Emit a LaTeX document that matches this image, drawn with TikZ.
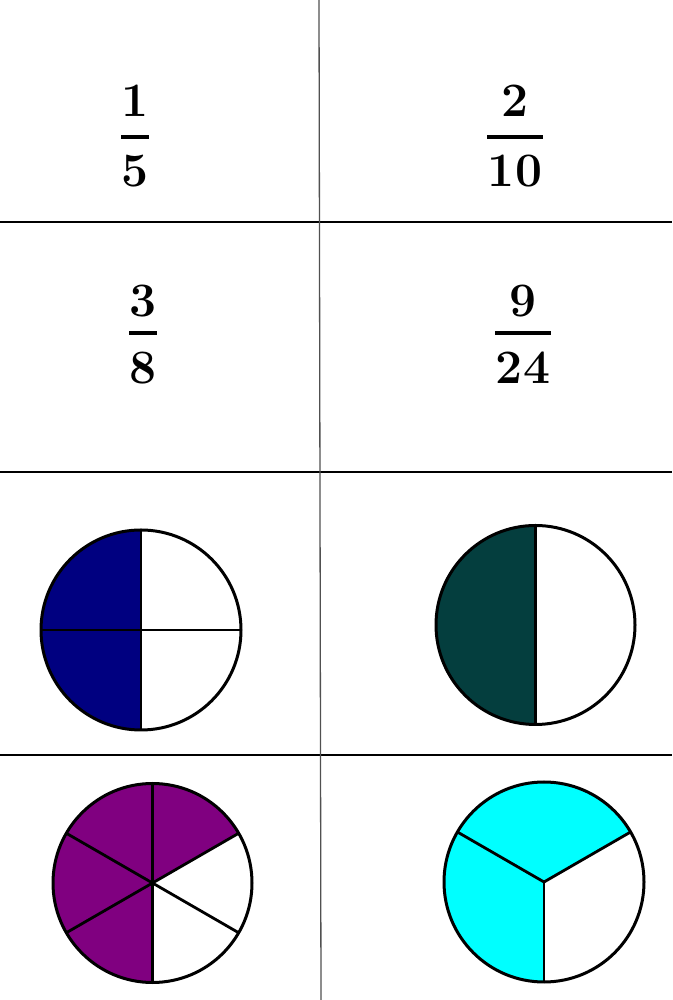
\documentclass[tikz,border=0pt]{standalone}
\usepackage{fontspec}
\definecolor{navyc}{HTML}{000080}
\definecolor{tealc}{HTML}{043E3E}
\definecolor{purplec}{HTML}{800080}
\definecolor{cyanc}{HTML}{00FFFF}
\definecolor{gridgray}{HTML}{505050}
\begin{document}
\begin{tikzpicture}[x=1pt,y=1pt,
  digit/.style={inner sep=0pt,font=\fontsize{48}{48}\selectfont\bfseries},
  fbar/.style={line width=4pt},
  rim/.style={line width=3pt},
  spoke/.style={line width=2.8pt},
  grid/.style={line width=1.1pt,black}]
\useasboundingbox (0,0) rectangle (672,1000);
\fill[white] (0,0) rectangle (672,1000);
% grid
\draw[grid] (0,778) -- (672,778);
\draw[grid] (0,528) -- (672,528);
\draw[grid] (0,245) -- (672,245);
\draw[gridgray,line width=1.3pt] (319,1000) -- (321,0);
% fractions
\node[digit] (n1) at (135,899) {1};
\draw[fbar] (121,863) -- (149,863);
\node[digit] (d1) at (135,829) {5};
\node[digit] (n2) at (515,899) {2};
\draw[fbar] (487,863) -- (543,863);
\node[digit] (d2) at (515,829) {10};
\node[digit] (n3) at (143,699) {3};
\draw[fbar] (129,667) -- (157,667);
\node[digit] (d3) at (143,632) {8};
\node[digit] (n4) at (523,699) {9};
\draw[fbar] (495,667) -- (551,667);
\node[digit] (d4) at (523,632) {24};
% circle 1: quarters, left half navy
\begin{scope}[shift={(141,370)}]
\fill[navyc] (0,0) -- (90:100) arc (90:270:100) -- cycle;
\draw[spoke] (0,100) -- (0,-100);
\draw[spoke] (-100,0) -- (100,0);
\draw[rim] (0,0) circle (100);
\end{scope}
% circle 2: halves, left half teal
\begin{scope}[shift={(535.5,375)}]
\fill[tealc] (0,0) -- (90:99.5) arc (90:270:99.5) -- cycle;
\draw[spoke] (0,99.5) -- (0,-99.5);
\draw[rim] (0,0) circle (99.5);
\end{scope}
% circle 3: sixths, four purple
\begin{scope}[shift={(152.5,117)}]
\fill[purplec] (0,0) -- (30:99.5) arc (30:270:99.5) -- cycle;
\foreach \a in {30,90,150,210,270,330} \draw[spoke] (0,0) -- (\a:99.5);
\draw[rim] (0,0) circle (99.5);
\end{scope}
% circle 4: thirds, two cyan
\begin{scope}[shift={(544,118)}]
\fill[cyanc] (0,0) -- (30:100) arc (30:270:100) -- cycle;
\foreach \a in {30,150,270} \draw[spoke] (0,0) -- (\a:100);
\draw[rim] (0,0) circle (100);
\end{scope}
\end{tikzpicture}
\end{document}
